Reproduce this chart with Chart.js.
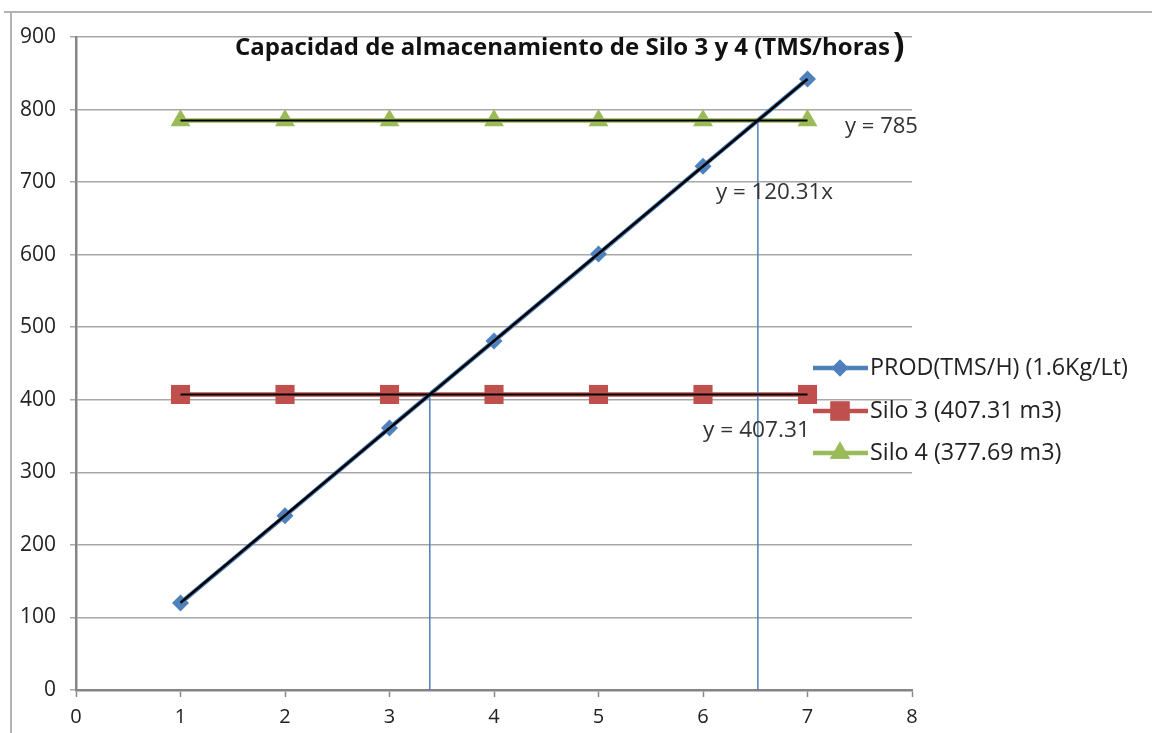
<!DOCTYPE html>
<html>
<head>
<meta charset="utf-8">
<script src="https://cdn.jsdelivr.net/npm/chart.js@4"></script>
<style>
html,body{margin:0;padding:0;background:#fff;}
canvas{display:block;}
</style>
</head>
<body>
<canvas id="c" width="1152" height="733"></canvas>
<script>
// ---- data ----
const xValues = [1, 2, 3, 4, 5, 6, 7];
const prodValues = [120, 240, 361, 481, 601, 722, 842];
const silo3Values = [407.31, 407.31, 407.31, 407.31, 407.31, 407.31, 407.31];
const silo4Values = [785, 785, 785, 785, 785, 785, 785];
const prodSlope = 120.31;     // trendline y = 120.31x
const silo3Level = 407.31;    // trendline y = 407.31
const silo4Level = 785;       // trendline y = 785
const seriesNames = ['PROD(TMS/H) (1.6Kg/Lt)', 'Silo 3 (407.31 m3)', 'Silo 4 (377.69 m3)'];
const trendLabels = ['y = 120.31x', 'y = 407.31', 'y = 785'];
const chartTitle = 'Capacidad de almacenamiento de Silo 3 y 4 (TMS/horas';
const xTickMin = 0, xTickMax = 8, xTickStep = 1;
const yTickMin = 0, yTickMax = 900, yTickStep = 100;

const BLUE = '#4F81BD', RED = '#C0504D', GREEN = '#9BBB59';
const FONT = '"Open Sans", "Liberation Sans", sans-serif';

const pts = (xs, ys) => xs.map((x, i) => ({x: x, y: ys[i]}));
const xFirst = xValues[0], xLast = xValues[xValues.length - 1];
const cross3 = silo3Level / prodSlope;
const cross4 = silo4Level / prodSlope;

const datasets = [
  {label: seriesNames[0], data: pts(xValues, prodValues), showLine: true, borderColor: BLUE, borderWidth: 4.5,
   pointStyle: 'rectRot', pointRadius: 8.5, pointBackgroundColor: BLUE, pointBorderColor: BLUE, pointBorderWidth: 0, order: 5},
  {label: seriesNames[1], data: pts(xValues, silo3Values), showLine: true, borderColor: RED, borderWidth: 4.5,
   pointStyle: 'rect', pointRadius: 13.5, pointBackgroundColor: RED, pointBorderColor: RED, pointBorderWidth: 0, order: 6},
  {label: seriesNames[2], data: pts(xValues, silo4Values), showLine: true, borderColor: GREEN, borderWidth: 4.5,
   pointStyle: 'triangle', pointRadius: 11.5, pointBackgroundColor: GREEN, pointBorderColor: GREEN, pointBorderWidth: 0, order: 7},
  // trendlines
  {label: 't1', data: [{x: xFirst, y: prodSlope * xFirst}, {x: xLast, y: prodSlope * xLast}], showLine: true,
   borderColor: '#000', borderWidth: 2.5, pointRadius: 0, order: 1},
  {label: 't2', data: [{x: xFirst, y: silo3Level}, {x: xLast, y: silo3Level}], showLine: true,
   borderColor: '#000', borderWidth: 2, pointRadius: 0, order: 2},
  {label: 't3', data: [{x: xFirst, y: silo4Level}, {x: xLast, y: silo4Level}], showLine: true,
   borderColor: '#000', borderWidth: 2, pointRadius: 0, order: 3},
  // drop lines at intersections
  {label: 'v1', data: [{x: cross3, y: silo3Level}, {x: cross3, y: 0}], showLine: true,
   borderColor: BLUE, borderWidth: 1.5, pointRadius: 0, order: 4},
  {label: 'v2', data: [{x: cross4, y: silo4Level}, {x: cross4, y: 0}], showLine: true,
   borderColor: BLUE, borderWidth: 1.5, pointRadius: 0, order: 4}
];

function fitFont(ctx, text, width, weight, guess) {
  ctx.font = weight + ' ' + guess + 'px ' + FONT;
  const w = ctx.measureText(text).width;
  const size = guess * width / w;
  ctx.font = weight + ' ' + size.toFixed(2) + 'px ' + FONT;
  return size;
}

const overlay = {
  id: 'overlay',
  beforeDraw(chart) {
    const ctx = chart.ctx;
    ctx.save();
    ctx.fillStyle = '#fff';
    ctx.fillRect(0, 0, chart.width, chart.height);
    ctx.strokeStyle = '#b4b4b4';
    ctx.lineWidth = 2;
    ctx.beginPath();
    ctx.moveTo(4, 12); ctx.lineTo(chart.width, 12);
    ctx.moveTo(11, 12); ctx.lineTo(11, chart.height);
    ctx.stroke();
    ctx.restore();
  },
  afterDraw(chart) {
    const ctx = chart.ctx;
    ctx.save();
    ctx.textBaseline = 'middle';
    ctx.textAlign = 'left';
    // title
    ctx.fillStyle = '#111';
    fitFont(ctx, chartTitle, 655, 'bold', 19);
    ctx.fillText(chartTitle, 235, 48);
    ctx.font = 'bold 34px ' + FONT;
    ctx.fillText(')', 893, 46);
    // trendline labels
    ctx.fillStyle = '#333';
    fitFont(ctx, trendLabels[2], 73, 'normal', 19);
    ctx.fillText(trendLabels[2], 845, 127);
    fitFont(ctx, trendLabels[0], 117, 'normal', 19);
    ctx.fillText(trendLabels[0], 716, 193);
    fitFont(ctx, trendLabels[1], 107, 'normal', 19);
    ctx.fillText(trendLabels[1], 703, 431);
    // legend
    const rows = [368, 411, 453];
    const colors = [BLUE, RED, GREEN];
    const styles = ['rectRot', 'rect', 'triangle'];
    const radii = [8.5, 13.5, 11.5];
    fitFont(ctx, seriesNames[0], 258, 'normal', 19);
    const legFont = ctx.font;
    rows.forEach((y, i) => {
      ctx.strokeStyle = colors[i];
      ctx.lineWidth = 4.5;
      ctx.beginPath(); ctx.moveTo(813, y); ctx.lineTo(868, y); ctx.stroke();
      ctx.fillStyle = colors[i];
      Chart.helpers.drawPoint(ctx, {pointStyle: styles[i], radius: radii[i], borderWidth: 0}, 840, y);
      ctx.fill();
      ctx.font = legFont;
      ctx.fillStyle = '#222';
      ctx.fillText(seriesNames[i], 870, y);
    });
    ctx.restore();
  }
};

new Chart(document.getElementById('c'), {
  type: 'scatter',
  data: {datasets: datasets},
  plugins: [overlay],
  options: {
    responsive: false,
    devicePixelRatio: 1,
    animation: false,
    layout: {padding: {left: 0, top: 37, right: 240, bottom: 0}},
    plugins: {legend: {display: false}, title: {display: false}, tooltip: {enabled: false}},
    scales: {
      x: {
        type: 'linear', min: xTickMin, max: xTickMax,
        ticks: {stepSize: xTickStep, color: '#222', font: {family: FONT, size: 20}, padding: 8, maxRotation: 0},
        grid: {drawOnChartArea: false, drawTicks: true, tickLength: 7, tickColor: '#888', tickWidth: 1.5},
        border: {color: '#858585', width: 2.5},
        afterFit(s) { s.height = 43; }
      },
      y: {
        type: 'linear', min: yTickMin, max: yTickMax,
        ticks: {stepSize: yTickStep, color: '#222', font: {family: FONT, size: 21}, padding: 14},
        grid: {color: '#a8a8a8', lineWidth: 1.5, drawTicks: true, tickLength: 6, tickColor: '#a8a8a8'},
        border: {color: '#858585', width: 2.5},
        afterFit(s) { s.width = 76; }
      }
    }
  }
});
</script>
</body>
</html>
